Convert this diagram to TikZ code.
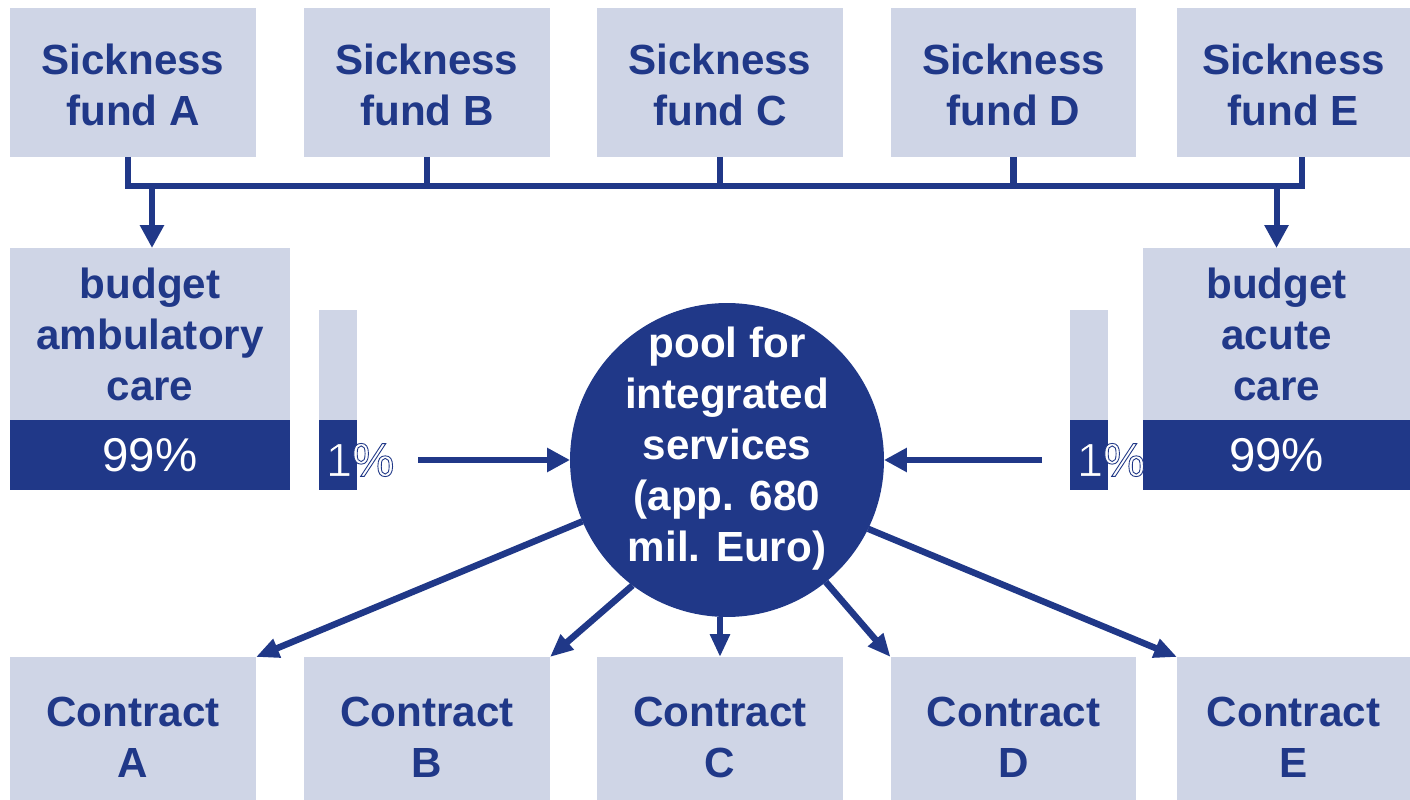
\documentclass[tikz,border=0pt]{standalone}
\usepackage{fontspec}
\setmainfont{Liberation Sans}
\usepackage{tikz}
\usetikzlibrary{positioning,calc,arrows.meta}
\definecolor{navy}{RGB}{32,56,136}
\definecolor{pale}{RGB}{207,213,230}

\begin{document}
\begin{tikzpicture}[x=0.02cm,y=-0.02cm,
	box/.style={fill=pale,text=navy,font=\fontsize{24}{29}\selectfont\bfseries,align=center,inner sep=0pt,outer sep=0pt,minimum width=4.92cm},
	fund/.style={box,minimum height=2.98cm},
	contract/.style={box,minimum height=2.86cm},
	budget/.style={box,minimum height=3.44cm},
	share/.style={fill=navy,text=white,font=\fontsize{27}{30}\selectfont,inner sep=0pt,outer sep=0pt,minimum height=1.4cm},
	pct/.style={text=white,font=\fontsize{27}{30}\selectfont,inner sep=0pt},
	pool/.style={circle,fill=navy,inner sep=0pt,outer sep=0pt,minimum size=6.28cm},
	bus/.style={navy,line width=0.13cm},
	arr/.style={navy,line width=0.12cm,-{Triangle[length=0.46cm,width=0.46cm]}},
	fanout/.style={arr,line width=0.13cm,-{Triangle[length=0.46cm,width=0.38cm]}}]
	\def\lift{\rule{0pt}{0.95cm}}
	\def\nudge{\rule{0pt}{0.72cm}}
	\def\rimmed#1{\special{pdf:literal direct 2 Tr 0.5 w 0.125 0.22 0.53 RG}#1\special{pdf:literal direct 0 Tr}}
	\useasboundingbox (0,0) rectangle (1410,800);

	\node[fund] (fundA) at (133,82.5) {\nudge Sickness\\fund A};
	\node[fund] (fundB) at (427,82.5) {\nudge Sickness\\fund B};
	\node[fund] (fundC) at (720,82.5) {\nudge Sickness\\fund C};
	\node[fund] (fundD) at (1013.5,82.5) {\nudge Sickness\\fund D};
	\node[fund,minimum width=4.66cm] (fundE) at (1293.5,82.5) {\nudge Sickness\\fund E};

	\coordinate (busA) at ([xshift=-0.1cm]$(fundA.south)+(0,29)$);
	\coordinate (busE) at ([xshift=0.17cm]$(fundE.south)+(0,29)$);
	\draw[bus] ([xshift=-0.1cm]fundA.south) -- (busA) -- (busE) -- ([xshift=0.17cm]fundE.south);
	\draw[bus] (fundB.south) -- (fundB.south |- busA);
	\draw[bus] (fundC.south) -- (fundC.south |- busA);
	\draw[bus] (fundD.south) -- (fundD.south |- busA);

	\node[budget,minimum width=5.6cm] (amb) at (150,334) {budget\\ambulatory\\care};
	\node[share,minimum width=5.6cm,below=0pt of amb] (ambShare) {99\%};
	\node[budget,minimum width=5.34cm] (acute) at (1276.5,334) {budget\\acute\\care};
	\node[share,minimum width=5.34cm,below=0pt of acute] (acuteShare) {99\%};

	\draw[arr] ([xshift=0.04cm]amb.north |- busA) -- ([xshift=0.04cm]amb.north);
	\draw[arr] (acute.north |- busA) -- (acute.north);

	\node[box,minimum width=0.76cm,minimum height=2.2cm] (barL) at (338,365) {};
	\node[share,minimum width=0.76cm,below=0pt of barL] (barLlow) {};
	\node[pct] (pctL) at (360,460) {\rimmed{1\%}};
	\node[box,minimum width=0.76cm,minimum height=2.2cm] (barR) at (1089,365) {};
	\node[share,minimum width=0.76cm,below=0pt of barR] (barRlow) {};
	\node[pct] (pctR) at (1111,460) {\rimmed{1\%}};

	\node[pool] (pool) at (727,460) {};
	\node[text=white,font=\fontsize{24}{29}\selectfont\bfseries,align=center,inner sep=0pt] (poolText) at ([yshift=0.23cm]pool.center) {pool for\\integrated\\services\\(app. 680\\mil. Euro)};

	\coordinate (inL) at (418,460);
	\coordinate (inR) at (1042,460);
	\draw[arr] (inL) -- (pool.west);
	\draw[arr] (inR) -- (pool.east);

	\node[contract] (conA) at (133,728.5) {\lift Contract\\A};
	\node[contract] (conB) at (427,728.5) {\lift Contract\\B};
	\node[contract] (conC) at (720,728.5) {\lift Contract\\C};
	\node[contract] (conD) at (1013.5,728.5) {\lift Contract\\D};
	\node[contract,minimum width=4.66cm] (conE) at (1293.5,728.5) {\lift Contract\\E};

	\draw[fanout] (pool.203) -- (conA.north east);
	\draw[fanout] (pool.233) -- (conB.north east);
	\draw[fanout] (pool.south -| conC.north) -- (conC.north);
	\draw[fanout] (pool.309) -- (conD.north west);
	\draw[fanout] (pool.334) -- (conE.north west);
\end{tikzpicture}
\end{document}
